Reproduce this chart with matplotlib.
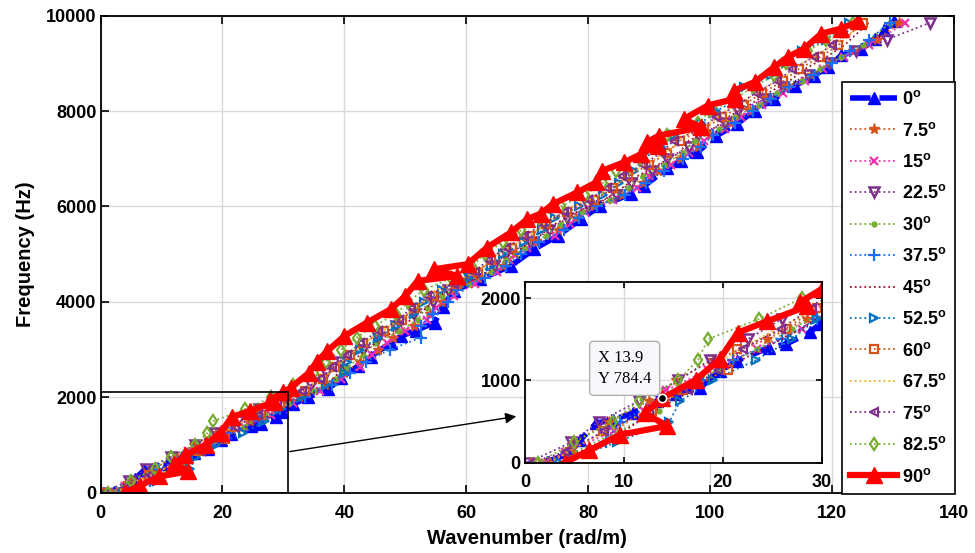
import numpy as np
import matplotlib.pyplot as plt
from matplotlib.patches import Rectangle, FancyArrowPatch

plt.rcParams['font.family'] = ['Liberation Sans', 'DejaVu Sans']
plt.rcParams['font.weight'] = 'bold'
plt.rcParams['mathtext.fontset'] = 'custom'
plt.rcParams['mathtext.rm'] = 'Liberation Sans:bold'
plt.rcParams['mathtext.bf'] = 'Liberation Sans:bold'
plt.rcParams['mathtext.it'] = 'Liberation Sans:bold'

# angle labels (legend order)
ANGLES = ['0', '7.5', '15', '22.5', '30', '37.5', '45', '52.5', '60', '67.5', '75', '82.5', '90']

# 0 deg curve
K_0 = [2.2, 4.5, 5.6, 7.2, 8.9, 10.9, 13.3, 15.3, 17.7, 19.7, 21.4, 24.7, 26.4, 28.8, 29.8,
       31.5, 34.0, 37.3, 39.4, 42.2, 44.3, 47.6, 49.3, 51.7, 54.8, 56.1, 58.0, 62.3, 67.3, 71.1,
       75.0, 78.8, 82.0, 87.0, 89.2, 93.0, 95.2, 97.9, 101.0, 104.4, 107.3, 110.5, 113.9, 117.1,
       119.3, 121.5, 124.8, 127.0, 128.5, 130.2]
F_0 = [10, 114, 278, 480, 522, 604, 747, 829, 910, 1114, 1237, 1400, 1441, 1584, 1686,
       1850, 2000, 2164, 2400, 2654, 2850, 3144, 3284, 3400, 3565, 3900, 4230, 4475, 4755, 5105,
       5385, 5735, 6015, 6260, 6435, 6800, 6960, 7136, 7480, 7730, 8011, 8256, 8536, 8746,
       8922, 9166, 9307, 9517, 9700, 9880]

# 90 deg curve
K_90 = [4.0, 6.5, 9.6, 14.4, 12.1, 13.9, 17.3, 19.7, 21.5, 24.5, 28.5, 27.8, 30.0, 31.2, 34.2,
        35.5, 37.2, 40.0, 43.7, 47.6, 50.0, 52.0, 58.5, 54.7, 60.2, 63.4, 67.3, 70.0, 72.2, 74.2,
        78.2, 81.3, 82.3, 85.9, 88.7, 91.4, 89.6, 91.6, 98.5, 95.7, 99.6, 104.0, 103.9, 107.3,
        110.5, 112.7, 115.4, 118.2, 121.4, 124.3]
F_90 = [0, 150, 340, 447, 600, 784.4, 1010, 1260, 1580, 1720, 1900, 1950, 2110, 2200, 2514,
        2750, 2969, 3284, 3565, 3845, 4124, 4439, 4544, 4685, 4790, 5140, 5455, 5735, 5850, 6050,
        6296, 6506, 6750, 6926, 7100, 7275, 7346, 7486, 7660, 7836, 8116, 8256, 8430, 8607,
        8922, 9132, 9307, 9622, 9727, 9880]

# frequency grids of the in-between angles
F_A = [0, 250, 500, 750, 1000, 1250, 1500, 1750, 2000, 2250, 2500, 2750, 3000, 3250, 3500,
       3750, 4000, 4250, 4500, 4750, 5000, 5250, 5500, 5750, 6000, 6250, 6500, 6750, 7000, 7250,
       7500, 7750, 8000, 8250, 8500, 8750, 9000, 9250, 9500, 9850]
F_B = [0, 130, 380, 630, 880, 1130, 1380, 1630, 1880, 2130, 2380, 2630, 2880, 3130, 3380,
       3630, 3880, 4130, 4380, 4630, 4880, 5130, 5380, 5630, 5880, 6130, 6380, 6630, 6880, 7130,
       7380, 7630, 7880, 8130, 8380, 8630, 8880, 9130, 9380, 9850]

K_7_5 = [2.5, 5.0, 8.5, 12.5, 15.3, 19.0, 24.5, 28.5, 32.5, 36.8, 40.0, 42.5, 45.5, 48.0, 51.5,
         54.0, 56.0, 58.0, 62.0, 66.0, 68.0, 71.5, 75.0, 78.0, 81.0, 85.5, 89.0, 91.5, 95.0, 98.0,
         100.0, 103.5, 106.5, 109.5, 112.5, 116.5, 119.5, 123.5, 127.4, 131.0]
K_15 = [2.0, 4.0, 9.0, 12.0, 14.3, 18.5, 23.5, 28.0, 31.5, 36.0, 39.5, 42.5, 44.5, 47.0, 50.0,
        53.5, 55.0, 58.0, 61.5, 65.0, 67.0, 70.0, 74.5, 77.0, 79.5, 84.0, 88.0, 90.0, 93.5, 96.5,
        99.0, 102.5, 105.0, 108.5, 112.0, 115.5, 118.5, 122.0, 126.0, 132.0]
K_22_5 = [0.3, 4.7, 7.5, 11.5, 15.5, 18.7, 22.5, 26.0, 30.5, 34.5, 37.0, 39.5, 43.0, 45.5, 48.5,
          51.5, 54.5, 57.0, 60.5, 64.5, 66.5, 70.5, 73.5, 76.5, 80.0, 84.5, 87.0, 90.5, 93.0, 96.5,
          98.0, 102.5, 104.5, 109.0, 112.0, 116.0, 119.5, 124.0, 129.0, 136.0]
K_30 = [1.5, 5.0, 9.5, 13.5, 15.5, 19.5, 23.5, 27.0, 31.0, 35.0, 38.5, 40.5, 43.0, 45.0, 49.0,
        52.0, 53.5, 56.0, 60.5, 64.0, 66.5, 69.5, 73.0, 75.5, 79.0, 83.5, 86.5, 89.0, 92.5, 95.5,
        97.5, 101.5, 104.0, 108.0, 111.0, 115.0, 118.0, 121.5, 125.0, 129.5]
K_37_5 = [3.0, 8.2, 9.6, 13.6, 18.0, 21.0, 26.0, 29.5, 33.5, 38.0, 41.0, 43.5, 47.5, 52.5, 52.5,
          54.5, 57.0, 58.5, 63.0, 66.5, 69.0, 72.0, 76.0, 78.5, 81.5, 86.0, 89.5, 92.5, 95.5, 98.5,
          100.5, 104.0, 107.0, 110.0, 113.0, 117.0, 120.0, 123.0, 126.0, 129.5]
K_45 = [2.0, 5.5, 10.0, 13.0, 17.0, 20.0, 24.0, 28.0, 31.0, 35.5, 38.0, 40.0, 42.5, 45.0, 48.0,
        51.0, 53.5, 55.5, 60.0, 63.5, 65.5, 69.0, 72.0, 74.5, 78.0, 82.5, 85.5, 88.0, 91.5, 95.0,
        96.5, 100.5, 103.0, 106.5, 109.5, 113.0, 115.5, 119.0, 122.0, 126.0]
K_52_5 = [3.5, 9.3, 14.6, 15.7, 19.0, 23.4, 27.0, 29.5, 33.0, 37.0, 40.0, 40.5, 42.5, 45.5, 48.5,
          51.5, 53.0, 56.0, 60.5, 64.0, 66.0, 69.5, 72.5, 74.5, 78.5, 82.5, 85.0, 87.5, 89.0, 92.0,
          94.0, 98.5, 101.0, 104.5, 105.5, 110.0, 112.5, 115.0, 119.0, 122.7]
K_60 = [1.0, 4.5, 7.9, 12.8, 16.0, 20.5, 21.4, 26.4, 29.5, 33.5, 36.5, 38.5, 41.0, 43.0, 46.5,
        49.5, 51.5, 54.5, 58.5, 62.0, 64.0, 67.5, 70.5, 73.0, 76.5, 81.0, 84.0, 86.5, 90.0, 93.0,
        95.0, 99.0, 102.0, 105.5, 108.5, 112.0, 114.5, 118.0, 121.0, 125.0]
K_67_5 = [2.5, 6.0, 10.5, 13.5, 17.5, 20.0, 23.5, 27.5, 30.5, 34.5, 37.5, 39.5, 42.0, 44.5, 47.5,
          50.5, 53.0, 55.0, 59.5, 63.0, 65.0, 68.5, 71.5, 74.0, 77.5, 82.0, 85.0, 87.5, 91.0, 94.0,
          96.0, 100.0, 102.5, 106.0, 109.0, 112.5, 115.0, 118.5, 121.5, 125.5]
K_75 = [0.5, 4.0, 8.0, 12.5, 16.5, 19.5, 22.0, 25.9, 29.0, 33.0, 36.0, 38.0, 40.5, 42.5, 45.5,
        49.0, 51.0, 53.5, 58.0, 61.5, 63.5, 66.5, 69.5, 72.5, 76.0, 80.0, 83.0, 85.5, 89.0, 92.0,
        94.0, 98.5, 101.0, 104.5, 107.5, 111.0, 113.5, 117.0, 120.0, 124.0]
K_82_5 = [1.3, 5.0, 8.9, 11.5, 15.5, 17.5, 18.5, 23.7, 28.0, 31.5, 35.0, 37.0, 39.5, 42.0, 45.0,
          48.5, 50.5, 53.0, 57.5, 61.0, 63.0, 66.0, 69.0, 72.0, 75.5, 79.5, 82.5, 84.5, 88.5, 91.5,
          93.0, 98.0, 100.0, 104.0, 107.0, 110.5, 112.5, 116.0, 119.0, 123.5]

# datatip shown in the zoom window
TIP_K = 13.9
TIP_F = 784.4

SERIES = [
    (K_0, F_0), (K_7_5, F_A), (K_15, F_B), (K_22_5, F_A), (K_30, F_B), (K_37_5, F_A),
    (K_45, F_B), (K_52_5, F_A), (K_60, F_B), (K_67_5, F_A), (K_75, F_B), (K_82_5, F_A),
    (K_90, F_90),
]

STYLES = [
    dict(color='#0000FF', ls='--', lw=4, marker='^', ms=9, mfc='#0000FF', mec='#0000FF'),
    dict(color='#D95319', ls=':', lw=1.3, marker='*', ms=8),
    dict(color='#F030B0', ls=':', lw=1.3, marker='x', ms=6, mew=1.6),
    dict(color='#7E2F8E', ls=':', lw=1.3, marker='v', ms=6.5, mfc='none', mew=1.8),
    dict(color='#77AC30', ls=':', lw=1.3, marker='.', ms=7),
    dict(color='#1A6EF5', ls=':', lw=1.3, marker='+', ms=9, mew=1.6),
    dict(color='#A2142F', ls=':', lw=1.3),
    dict(color='#0072BD', ls=':', lw=1.3, marker='>', ms=6, mfc='none', mew=1.6),
    dict(color='#D95319', ls=':', lw=1.3, marker='s', ms=5.5, mfc='none', mew=1.6),
    dict(color='#EDB120', ls=':', lw=1.3),
    dict(color='#7E2F8E', ls=':', lw=1.3, marker='<', ms=6, mfc='none', mew=1.6),
    dict(color='#77AC30', ls=':', lw=1.3, marker='d', ms=6.5, mfc='none', mew=1.6),
    dict(color='#FF0000', ls='-', lw=4.5, marker='^', ms=11, mfc='#FF0000', mec='#FF0000'),
]

W, H = 975, 553


def draw_curves(ax):
    lines = []
    for (k, f), st, ang in zip(SERIES, STYLES, ANGLES):
        line, = ax.plot(k, f, label=r'$\mathbf{' + ang + '^o}$', **st)
        lines.append(line)
    return lines


def style_axes(ax, ticklen, xpad):
    ax.grid(True, color='#DADADA', lw=1)
    ax.set_axisbelow(True)
    ax.tick_params(direction='in', top=True, right=True, length=ticklen, width=1.2,
                   labelsize=13)
    ax.tick_params(axis='x', pad=xpad)
    ax.tick_params(axis='y', pad=3)
    for sp in ax.spines.values():
        sp.set_linewidth(1.3)


fig = plt.figure(figsize=(W / 100, H / 100), dpi=100)

# main axes
ax = fig.add_axes([100.5 / W, (H - 492.7) / H, 853.5 / W, 477 / H])
lines = draw_curves(ax)
ax.set_xlim(0, 140)
ax.set_ylim(0, 10000)
ax.set_xticks(np.arange(0, 141, 20))
ax.set_yticks(np.arange(0, 10001, 2000))
style_axes(ax, 6, 9)
ax.set_xlabel('Wavenumber (rad/m)', fontsize=14.5, fontweight='bold', labelpad=5)
ax.set_ylabel('Frequency (Hz)', fontsize=14.5, fontweight='bold', labelpad=8)

# zoom box
ax.add_patch(Rectangle((0, 0), 30.7, 2120, fill=False, ec='k', lw=1.2, zorder=20))

leg = ax.legend(handles=lines, loc='upper right',
                bbox_to_anchor=(955 / W, (H - 82) / H), bbox_transform=fig.transFigure,
                fontsize=13, handlelength=2.6, handletextpad=0.3, labelspacing=0.745,
                borderpad=0.45, borderaxespad=0, fancybox=False, edgecolor='k',
                framealpha=1)
leg.get_frame().set_linewidth(1.2)
leg.set_zorder(30)

# arrow to inset
arrow = FancyArrowPatch((287 / W, (H - 452) / H), (519 / W, (H - 416) / H),
                        transform=fig.transFigure, arrowstyle='-|>', mutation_scale=16,
                        lw=1, color='k')
fig.add_artist(arrow)

# inset axes
axin = fig.add_axes([525 / W, (H - 462.7) / H, 296.7 / W, 181 / H])
draw_curves(axin)
axin.set_xlim(0, 30)
axin.set_ylim(0, 2200)
axin.set_xticks([0, 10, 20, 30])
axin.set_yticks([0, 1000, 2000])
style_axes(axin, 4, 8)

axin.plot(TIP_K, TIP_F, 'o', ms=6, mfc='k', mec='w', mew=1.2, zorder=10)
axin.annotate(f'X {TIP_K}\nY {TIP_F}', xy=(TIP_K, TIP_F), xytext=(-8, 8),
              textcoords='offset points', ha='right', va='bottom', multialignment='left',
              fontfamily='Liberation Serif', fontweight='normal', fontsize=12,
              linespacing=1.45,
              bbox=dict(boxstyle='round,pad=0.5,rounding_size=0.25', fc='#F8F8FC',
                        ec='#AFAFAF', lw=1),
              zorder=12)

fig.savefig('out.png', dpi=100)
